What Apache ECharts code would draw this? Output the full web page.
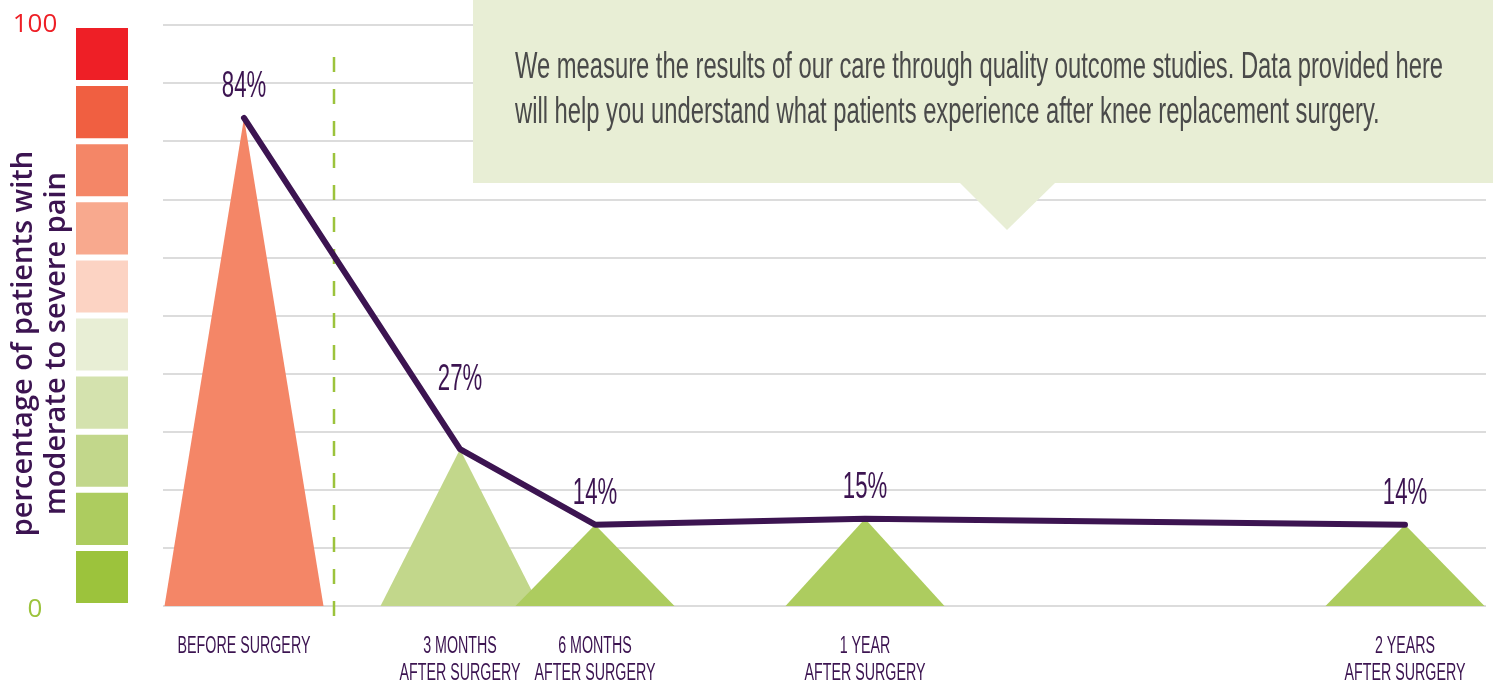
<!DOCTYPE html>
<html>
<head>
<meta charset="utf-8">
<title>Knee replacement pain outcomes</title>
<script src="https://cdn.jsdelivr.net/npm/echarts@6/dist/echarts.min.js"></script>
<style>
html, body { margin: 0; padding: 0; background: #fff; }
#PainChart { width: 1493px; height: 683px; }
</style>
</head>
<body>
<div id="PainChart"></div>
<script>
// time points, in months relative to surgery ("before" sits left of the surgery line)
var stageNames = ["BEFORE SURGERY", "3 MONTHS\nAFTER SURGERY", "6 MONTHS\nAFTER SURGERY", "1 YEAR\nAFTER SURGERY", "2 YEARS\nAFTER SURGERY"];
var stageMonths = [-1.8, 3, 6, 12, 24];
var painPct = [84, 27, 14, 15, 14];
var surgeryMonth = 0.2;
// colour scale on the left, lower edge of each band, bottom to top
var bandLows = [0, 10, 20, 30, 40, 50, 60, 70, 80, 90];
var bandColors = ["#9cc33c", "#adcc5f", "#c2d78b", "#d4e2ae", "#e8eed5", "#fcd3c3", "#f8a98e", "#f48667", "#f05f41", "#ee1f26"];
var triColors = ["#f48667", "#c2d78b", "#adcc5f", "#adcc5f", "#adcc5f"];
var noteText = "We measure the results of our care through quality outcome studies. Data provided here\nwill help you understand what patients experience after knee replacement surgery.";

var purple = "#3c1451";
// the original type is a condensed face; squeeze Liberation Sans to match it
var narrow = "'Liberation Sans', Arial, sans-serif";
var labelLift = [31, 69, 31, 31, 31]; // px above each point (27% clears the line)

var myChart = echarts.init(document.getElementById("PainChart"));

var points = stageMonths.map(function (m, i) { return [m, painPct[i]]; });

var option = {
  animation: false,
  grid: [
    { left: 163, right: 7, top: 25, bottom: 77, outerBoundsMode: "none" },
    { left: 76, width: 52, top: 25, bottom: 77, outerBoundsMode: "none" }
  ],
  xAxis: [
    { type: "value", gridIndex: 0, min: -3.6, max: 25.8, show: false },
    { type: "value", gridIndex: 1, min: 0, max: 1, show: false }
  ],
  yAxis: [
    {
      type: "value", gridIndex: 0, min: 0, max: 100, interval: 10,
      axisLine: { show: false },
      axisTick: { show: false },
      splitLine: { lineStyle: { color: "#d0d0d0", width: 1.5 } },
      axisLabel: {
        margin: 128,
        align: "center",
        formatter: function (v) {
          if (v === 100) return "{hi|100}";
          if (v === 0) return "{lo|0}";
          return "";
        },
        rich: {
          hi: { color: "#ee1f26", fontSize: 26, fontWeight: 500, fontFamily: "'Open Sans', sans-serif" },
          lo: { color: "#9cc33c", fontSize: 26, fontWeight: 500, fontFamily: "'Open Sans', sans-serif", padding: [8, 0, 0, 0] }
        }
      },
      name: "percentage of patients with\nmoderate to severe pain",
      nameLocation: "middle",
      nameRotate: 90,
      nameGap: 90,
      nameMoveOverlap: false,
      nameTextStyle: {
        color: purple, fontSize: 29, fontWeight: 600, lineHeight: 33,
        fontFamily: "'Open Sans', sans-serif",
        padding: [0, 56, 0, 0]
      }
    },
    { type: "value", gridIndex: 1, min: 0, max: 100, show: false }
  ],
  series: [
    {
      // left colour scale
      type: "custom",
      xAxisIndex: 1, yAxisIndex: 1,
      data: bandLows.map(function (lo) { return [lo, lo + 10]; }),
      renderItem: function (params, api) {
        var a = api.coord([0, api.value(1)]);
        var b = api.coord([1, api.value(0)]);
        return {
          type: "rect",
          shape: { x: a[0], y: a[1] + 3, width: b[0] - a[0], height: b[1] - a[1] - 6 },
          style: { fill: bandColors[params.dataIndex] }
        };
      }
    },
    {
      // triangles under each point
      type: "custom",
      data: points,
      z: 2,
      renderItem: function (params, api) {
        var top = api.coord([api.value(0), api.value(1)]);
        var base = api.coord([api.value(0), 0]);
        return {
          type: "polygon",
          shape: { points: [[top[0] - 79.5, base[1]], [top[0], top[1]], [top[0] + 79.5, base[1]]] },
          style: { fill: triColors[params.dataIndex] }
        };
      }
    },
    {
      // surgery marker
      type: "custom",
      data: [[surgeryMonth]],
      z: 2,
      renderItem: function (params, api) {
        var a = api.coord([api.value(0), 94.5]);
        var b = api.coord([api.value(0), -4.5]);
        return {
          type: "line",
          shape: { x1: a[0], y1: a[1], x2: b[0], y2: b[1] },
          style: { stroke: "#9cc33c", lineWidth: 2.5, lineDash: [15, 17] }
        };
      }
    },
    {
      type: "line",
      data: points,
      z: 3,
      symbol: "none",
      lineStyle: { color: purple, width: 6, cap: "round", join: "round" }
    },
    {
      // value labels and stage names
      type: "custom",
      data: points,
      z: 4,
      renderItem: function (params, api) {
        var i = params.dataIndex;
        var top = api.coord([api.value(0), api.value(1)]);
        var base = api.coord([api.value(0), 0]);
        return {
          type: "group",
          children: [
            {
              type: "text", x: top[0], y: top[1] - labelLift[i], scaleX: 0.6,
              style: {
                text: painPct[i] + "%", x: 0, y: 0,
                fontSize: 37, fontFamily: narrow, fill: purple,
                align: "center", verticalAlign: "middle"
              }
            },
            {
              type: "text", x: base[0], y: base[1] + 27, scaleX: 0.62,
              style: {
                text: stageNames[i], x: 0, y: 0,
                fontSize: 23, lineHeight: 27, fontFamily: narrow, fill: purple,
                align: "center", verticalAlign: "top"
              }
            }
          ]
        };
      }
    }
  ],
  graphic: [
    { type: "rect", z: 10, shape: { x: 473, y: 0, width: 1020, height: 183 }, style: { fill: "#e8eed5" } },
    { type: "polygon", z: 10, shape: { points: [[960, 183], [1055, 183], [1007, 230]] }, style: { fill: "#e8eed5" } },
    {
      type: "text", z: 11, x: 515, y: 46, scaleX: 0.66,
      style: { text: noteText, fontSize: 36, lineHeight: 45, fontFamily: narrow, fill: "#4a4a4a" }
    }
  ]
};

myChart.setOption(option);
</script>
</body>
</html>
